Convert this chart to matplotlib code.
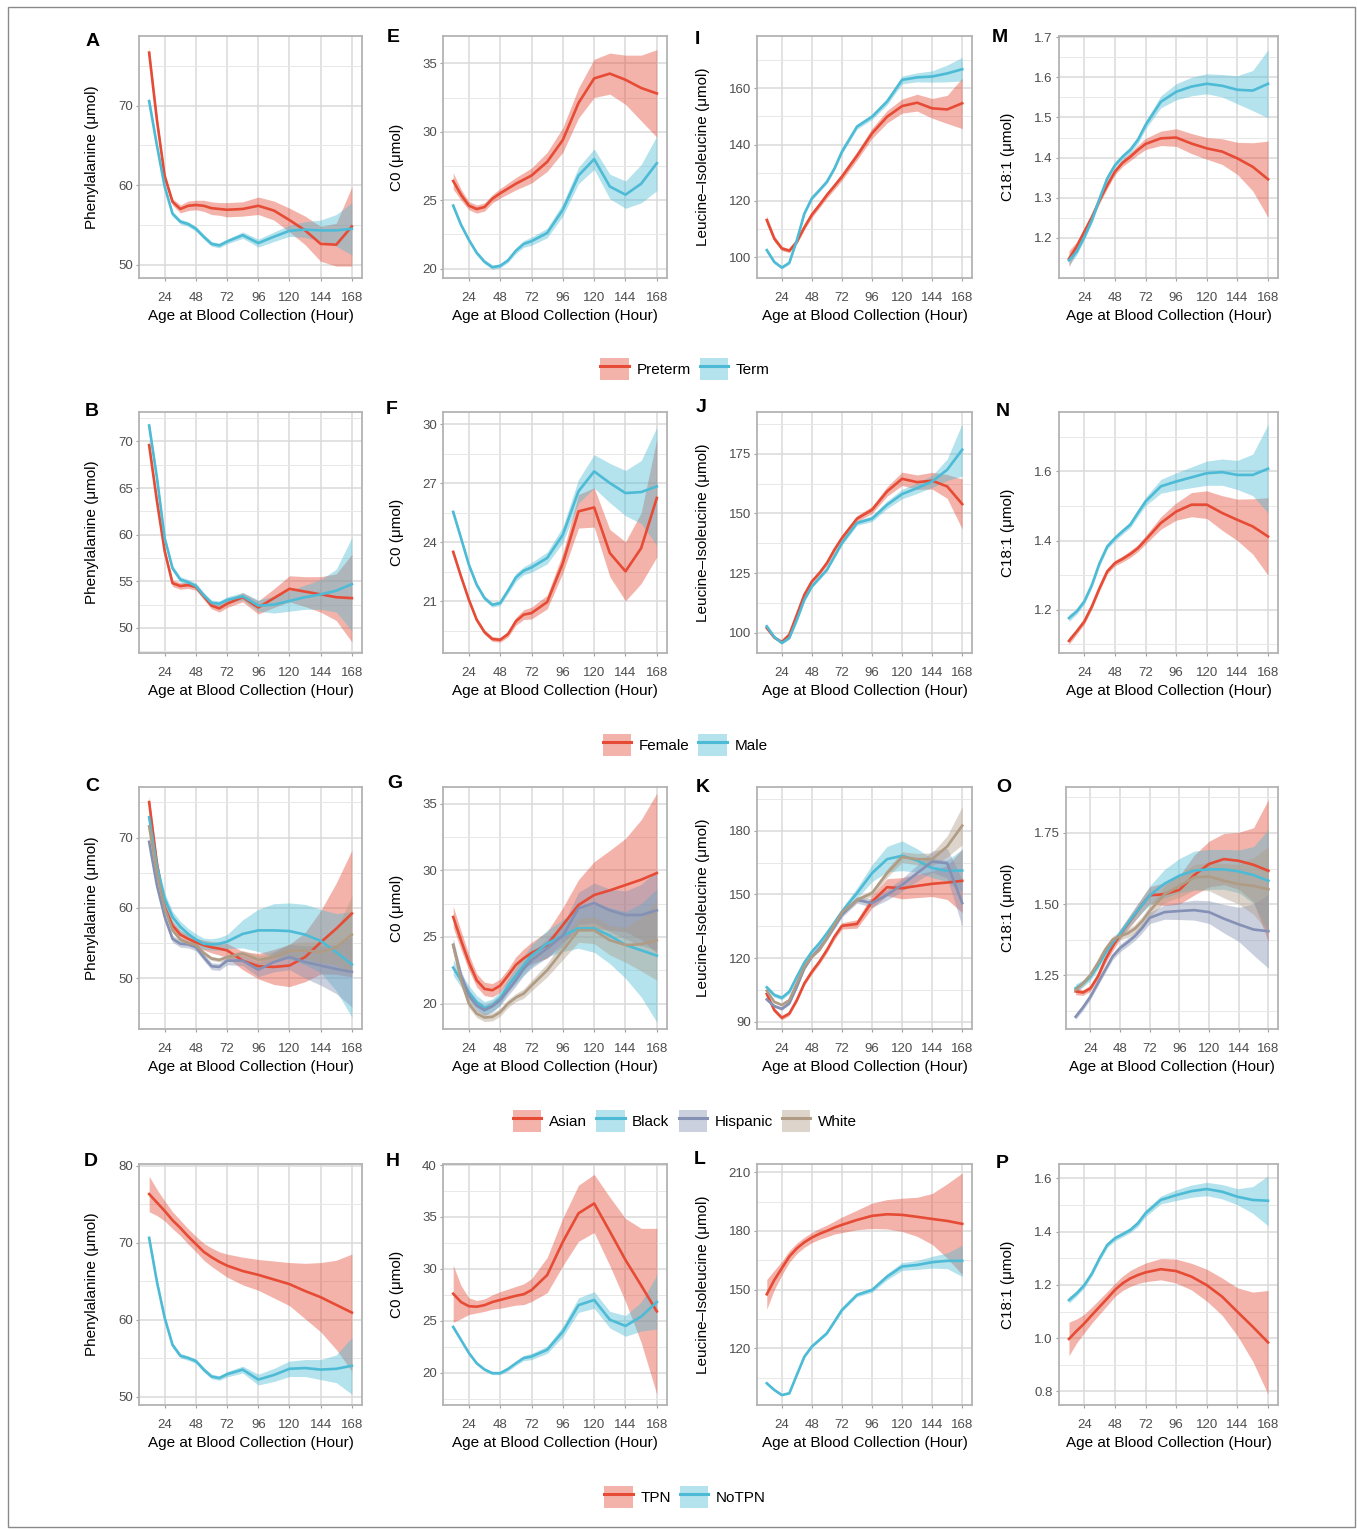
import matplotlib
matplotlib.use('Agg')
import matplotlib.pyplot as plt
from matplotlib.patches import Patch, Rectangle
from matplotlib.lines import Line2D

plt.rcParams['font.family'] = ['Liberation Sans', 'DejaVu Sans']

# ---------------- data ----------------
hours = [12, 18, 24, 30, 36, 42, 48, 54, 60, 66, 72, 84, 96, 108, 120, 132, 144, 156, 168]
x_ticks = [24, 48, 72, 96, 120, 144, 168]

# row 1: Preterm / Term
A_preterm = [76.7, 68.2, 61.1, 57.9, 57.0, 57.4, 57.5, 57.4, 57.1, 57.0, 56.9, 57.0, 57.4, 56.8, 55.6, 54.3, 52.6, 52.5, 54.8]
A_preterm_ci = [0.8, 0.6, 0.5, 0.4, 0.5, 0.6, 0.6, 0.7, 0.8, 0.8, 0.9, 0.9, 1.1, 1.2, 1.5, 1.8, 2.2, 2.7, 5.0]
A_term = [70.6, 65.0, 59.8, 56.4, 55.4, 55.1, 54.5, 53.5, 52.6, 52.4, 52.9, 53.7, 52.7, 53.5, 54.25, 54.4, 54.3, 54.3, 54.5]
A_term_ci = [0.5, 0.4, 0.3, 0.3, 0.3, 0.3, 0.3, 0.3, 0.3, 0.3, 0.3, 0.4, 0.5, 0.6, 0.7, 1.0, 1.3, 2.0, 3.3]

E_preterm = [26.4, 25.4, 24.6, 24.35, 24.5, 25.1, 25.5, 25.85, 26.2, 26.5, 26.8, 27.8, 29.4, 32.1, 33.9, 34.25, 33.8, 33.2, 32.8]
E_preterm_ci = [0.6, 0.4, 0.3, 0.3, 0.3, 0.3, 0.35, 0.4, 0.45, 0.5, 0.55, 0.7, 0.9, 1.1, 1.4, 1.5, 1.8, 2.4, 3.2]
E_term = [24.6, 23.2, 22.1, 21.15, 20.5, 20.1, 20.2, 20.6, 21.3, 21.8, 22.0, 22.6, 24.3, 26.8, 28.0, 26.0, 25.4, 26.2, 27.7]
E_term_ci = [0.2, 0.15, 0.15, 0.15, 0.15, 0.15, 0.15, 0.15, 0.2, 0.25, 0.3, 0.35, 0.45, 0.6, 0.75, 0.9, 1.0, 1.4, 2.0]

I_preterm = [113.2, 106.6, 103.1, 102.3, 105.5, 110.6, 115.1, 118.5, 122.1, 125.3, 128.6, 136.0, 144.0, 149.9, 153.7, 154.9, 152.9, 152.5, 154.7]
I_preterm_ci = [1.5, 1.0, 0.8, 0.7, 0.8, 0.9, 1.0, 1.0, 1.1, 1.2, 1.3, 1.5, 1.8, 2.2, 2.5, 3.0, 3.5, 5.0, 9.0]
I_term = [102.5, 98.3, 96.3, 98.0, 106.0, 115.5, 120.9, 123.8, 126.8, 131.5, 137.5, 146.4, 149.9, 155.3, 163.0, 163.9, 164.2, 165.3, 166.8]
I_term_ci = [0.8, 0.6, 0.5, 0.5, 0.5, 0.6, 0.6, 0.6, 0.7, 0.7, 0.8, 0.9, 1.0, 1.2, 1.4, 1.6, 2.0, 3.0, 4.2]

M_preterm = [1.148, 1.178, 1.215, 1.252, 1.294, 1.331, 1.365, 1.387, 1.402, 1.419, 1.434, 1.448, 1.450, 1.435, 1.423, 1.415, 1.398, 1.377, 1.346]
M_preterm_ci = [0.02, 0.012, 0.01, 0.008, 0.008, 0.008, 0.008, 0.009, 0.01, 0.012, 0.014, 0.018, 0.022, 0.025, 0.027, 0.032, 0.04, 0.06, 0.095]
M_term = [1.144, 1.165, 1.202, 1.244, 1.298, 1.348, 1.381, 1.402, 1.419, 1.444, 1.481, 1.539, 1.564, 1.577, 1.584, 1.579, 1.569, 1.567, 1.584]
M_term_ci = [0.012, 0.008, 0.007, 0.007, 0.007, 0.007, 0.007, 0.008, 0.008, 0.009, 0.01, 0.015, 0.02, 0.023, 0.025, 0.028, 0.035, 0.05, 0.085]

# row 2: Female / Male
B_female = [69.6, 63.6, 58.2, 54.8, 54.5, 54.6, 54.4, 53.4, 52.4, 52.1, 52.6, 53.3, 52.2, 53.2, 54.2, 53.9, 53.6, 53.3, 53.2]
B_female_ci = [0.6, 0.5, 0.4, 0.35, 0.35, 0.35, 0.35, 0.35, 0.35, 0.4, 0.4, 0.5, 0.7, 1.0, 1.4, 1.6, 1.9, 2.5, 4.7]
B_male = [71.7, 66.1, 59.6, 56.4, 55.2, 54.9, 54.5, 53.5, 52.7, 52.6, 53.0, 53.4, 52.4, 52.5, 52.9, 53.3, 53.6, 54.0, 54.7]
B_male_ci = [0.5, 0.4, 0.3, 0.3, 0.3, 0.3, 0.3, 0.3, 0.3, 0.3, 0.35, 0.4, 0.6, 0.9, 1.1, 1.3, 1.6, 2.3, 5.0]

F_female = [23.5, 22.25, 21.07, 20.05, 19.42, 19.07, 19.03, 19.32, 19.97, 20.31, 20.39, 20.95, 22.93, 25.56, 25.76, 23.44, 22.51, 23.69, 26.24]
F_female_ci = [0.15, 0.12, 0.12, 0.12, 0.12, 0.12, 0.12, 0.15, 0.2, 0.25, 0.3, 0.35, 0.5, 0.85, 1.0, 1.2, 1.5, 1.8, 3.0]
F_male = [25.53, 24.2, 22.85, 21.83, 21.15, 20.81, 20.9, 21.53, 22.2, 22.54, 22.71, 23.19, 24.37, 26.58, 27.59, 27.0, 26.49, 26.54, 26.83]
F_male_ci = [0.15, 0.12, 0.12, 0.12, 0.12, 0.12, 0.12, 0.15, 0.2, 0.2, 0.25, 0.3, 0.4, 0.6, 0.85, 1.0, 1.15, 1.6, 3.0]

J_female = [102.0, 98.0, 96.1, 99.2, 107.5, 115.9, 121.5, 125.0, 129.2, 134.8, 139.7, 147.8, 151.5, 159.2, 164.5, 163.1, 163.7, 161.3, 153.9]
J_female_ci = [0.8, 0.7, 0.7, 0.7, 0.7, 0.8, 0.8, 0.9, 1.0, 1.0, 1.1, 1.3, 1.5, 2.0, 2.8, 3.0, 3.5, 5.0, 10.5]
J_male = [102.7, 98.2, 95.7, 97.8, 105.4, 113.8, 119.4, 122.9, 126.4, 132.0, 137.6, 146.0, 147.8, 153.6, 158.1, 160.6, 163.4, 168.3, 176.7]
J_male_ci = [0.6, 0.5, 0.5, 0.5, 0.5, 0.6, 0.6, 0.7, 0.8, 0.8, 0.9, 1.0, 1.2, 1.6, 2.0, 2.2, 2.5, 4.5, 11.0]

N_female = [1.110, 1.137, 1.166, 1.210, 1.263, 1.311, 1.335, 1.347, 1.361, 1.378, 1.402, 1.451, 1.484, 1.504, 1.504, 1.480, 1.460, 1.441, 1.412]
N_female_ci = [0.01, 0.008, 0.008, 0.008, 0.008, 0.008, 0.008, 0.009, 0.01, 0.01, 0.012, 0.018, 0.025, 0.035, 0.04, 0.05, 0.06, 0.08, 0.112]
N_male = [1.176, 1.195, 1.224, 1.272, 1.335, 1.383, 1.407, 1.427, 1.446, 1.480, 1.513, 1.557, 1.571, 1.583, 1.595, 1.598, 1.590, 1.590, 1.608]
N_male_ci = [0.01, 0.008, 0.008, 0.008, 0.008, 0.008, 0.008, 0.008, 0.009, 0.01, 0.012, 0.02, 0.025, 0.03, 0.035, 0.038, 0.042, 0.06, 0.128]

# row 3: Asian / Black / Hispanic / White
C_asian = [75.05, 66.3, 60.1, 57.5, 56.2, 55.6, 55.1, 54.7, 54.4, 54.2, 53.95, 52.5, 51.7, 51.6, 51.8, 53.0, 55.1, 57.05, 59.2]
C_asian_ci = [0.9, 0.8, 0.7, 0.6, 0.6, 0.6, 0.6, 0.7, 0.8, 0.9, 1.0, 1.3, 1.8, 2.5, 3.0, 3.5, 4.5, 6.5, 9.0]
C_black = [72.9, 65.9, 61.3, 58.7, 57.3, 56.3, 55.5, 54.9, 54.8, 54.9, 55.2, 56.3, 56.8, 56.8, 56.7, 56.2, 55.3, 53.7, 51.95]
C_black_ci = [0.9, 0.8, 0.8, 0.8, 0.8, 0.8, 0.8, 0.8, 0.8, 0.9, 1.0, 2.0, 3.0, 3.8, 4.0, 4.3, 4.5, 5.5, 7.5]
C_hispanic = [69.4, 63.2, 58.7, 55.6, 54.9, 54.8, 54.4, 53.0, 51.7, 51.6, 52.5, 52.5, 51.2, 52.3, 53.0, 52.3, 51.8, 51.3, 50.9]
C_hispanic_ci = [0.6, 0.5, 0.5, 0.5, 0.5, 0.5, 0.5, 0.5, 0.5, 0.5, 0.6, 0.7, 1.0, 1.4, 1.8, 2.3, 2.8, 3.5, 5.0]
C_white = [71.6, 64.9, 59.9, 56.8, 55.5, 55.0, 54.7, 53.6, 52.8, 52.6, 53.0, 53.5, 52.6, 53.0, 53.9, 53.95, 53.7, 54.4, 56.2]
C_white_ci = [0.4, 0.3, 0.3, 0.3, 0.3, 0.3, 0.3, 0.3, 0.3, 0.3, 0.35, 0.45, 0.6, 0.8, 1.0, 1.2, 1.5, 2.5, 5.5]

G_asian = [26.5, 24.75, 23.1, 21.75, 21.1, 21.0, 21.35, 22.1, 22.9, 23.4, 23.8, 24.4, 25.9, 27.4, 28.15, 28.5, 28.9, 29.3, 29.8]
G_asian_ci = [0.8, 0.7, 0.6, 0.5, 0.5, 0.5, 0.5, 0.5, 0.6, 0.7, 0.8, 1.0, 1.3, 1.9, 2.5, 3.0, 3.5, 4.5, 6.0]
G_black = [22.7, 21.75, 20.85, 20.1, 19.65, 19.85, 20.4, 21.35, 22.1, 22.85, 23.6, 24.5, 25.1, 25.65, 25.65, 25.1, 24.4, 24.0, 23.6]
G_black_ci = [0.6, 0.5, 0.5, 0.5, 0.5, 0.5, 0.5, 0.5, 0.6, 0.7, 0.8, 1.0, 1.2, 1.5, 1.8, 2.1, 2.5, 3.5, 5.0]
G_hispanic = [24.4, 22.1, 20.6, 19.85, 19.5, 19.8, 20.25, 21.0, 21.75, 22.6, 23.25, 24.15, 25.1, 27.15, 27.55, 27.0, 26.65, 26.65, 27.0]
G_hispanic_ci = [0.5, 0.4, 0.4, 0.4, 0.4, 0.4, 0.4, 0.4, 0.45, 0.5, 0.6, 0.7, 0.8, 1.2, 1.5, 1.6, 1.8, 2.3, 3.0]
G_white = [24.4, 21.75, 20.0, 19.25, 18.95, 19.0, 19.35, 20.0, 20.45, 20.75, 21.35, 22.5, 24.0, 25.5, 25.5, 24.75, 24.4, 24.45, 24.75]
G_white_ci = [0.35, 0.3, 0.3, 0.3, 0.3, 0.3, 0.3, 0.3, 0.3, 0.35, 0.4, 0.5, 0.7, 0.9, 1.0, 1.1, 1.3, 2.0, 3.0]

K_asian = [103.1, 95.5, 91.9, 93.9, 100.2, 108.1, 113.6, 118.3, 123.8, 130.1, 135.2, 136.1, 146.6, 153.4, 152.9, 154.0, 155.0, 155.6, 156.4]
K_asian_ci = [1.2, 1.0, 1.0, 1.0, 1.0, 1.0, 1.1, 1.2, 1.3, 1.4, 1.5, 2.0, 3.0, 4.0, 5.0, 5.5, 6.0, 8.0, 15.0]
K_black = [106.2, 102.6, 101.3, 104.2, 111.2, 117.9, 123.0, 127.0, 131.7, 136.7, 141.9, 150.6, 160.0, 166.6, 168.2, 166.0, 162.4, 161.1, 161.3]
K_black_ci = [1.2, 1.0, 1.0, 1.0, 1.0, 1.0, 1.1, 1.2, 1.3, 1.4, 1.6, 2.5, 4.0, 6.0, 7.0, 5.5, 4.5, 5.0, 10.0]
K_hispanic = [100.5, 97.4, 96.1, 98.7, 106.5, 115.2, 120.7, 124.6, 129.3, 134.8, 140.4, 147.4, 145.9, 149.8, 154.5, 160.0, 165.5, 164.7, 145.9]
K_hispanic_ci = [0.8, 0.7, 0.7, 0.7, 0.7, 0.8, 0.8, 0.9, 1.0, 1.1, 1.2, 1.5, 2.0, 2.5, 3.0, 3.8, 5.0, 7.0, 11.0]
K_white = [104.6, 99.4, 97.9, 100.2, 108.1, 116.0, 120.7, 123.8, 129.3, 135.6, 141.5, 147.4, 150.6, 160.0, 167.6, 166.6, 166.6, 172.6, 182.4]
K_white_ci = [0.6, 0.5, 0.5, 0.5, 0.5, 0.5, 0.6, 0.6, 0.7, 0.8, 0.9, 1.2, 1.5, 2.0, 2.5, 2.7, 3.0, 5.0, 9.0]

O_asian = [1.194, 1.190, 1.205, 1.246, 1.305, 1.352, 1.394, 1.429, 1.464, 1.499, 1.531, 1.535, 1.550, 1.602, 1.641, 1.658, 1.652, 1.638, 1.617]
O_asian_ci = [0.012, 0.01, 0.01, 0.012, 0.014, 0.016, 0.018, 0.02, 0.023, 0.026, 0.03, 0.04, 0.05, 0.07, 0.08, 0.09, 0.1, 0.13, 0.25]
O_black = [1.205, 1.222, 1.245, 1.283, 1.328, 1.365, 1.396, 1.432, 1.466, 1.498, 1.531, 1.572, 1.600, 1.618, 1.622, 1.622, 1.615, 1.602, 1.582]
O_black_ci = [0.015, 0.012, 0.012, 0.012, 0.012, 0.014, 0.016, 0.018, 0.022, 0.027, 0.033, 0.05, 0.06, 0.068, 0.07, 0.07, 0.075, 0.1, 0.18]
O_hispanic = [1.105, 1.138, 1.176, 1.223, 1.270, 1.317, 1.346, 1.366, 1.388, 1.417, 1.452, 1.472, 1.476, 1.479, 1.472, 1.449, 1.429, 1.411, 1.405]
O_hispanic_ci = [0.01, 0.01, 0.01, 0.01, 0.01, 0.012, 0.013, 0.014, 0.015, 0.017, 0.02, 0.025, 0.03, 0.035, 0.04, 0.05, 0.06, 0.09, 0.13]
O_white = [1.199, 1.223, 1.252, 1.294, 1.341, 1.376, 1.388, 1.397, 1.414, 1.441, 1.476, 1.535, 1.564, 1.594, 1.597, 1.582, 1.570, 1.564, 1.552]
O_white_ci = [0.01, 0.01, 0.01, 0.01, 0.01, 0.012, 0.013, 0.014, 0.015, 0.017, 0.02, 0.03, 0.04, 0.045, 0.05, 0.06, 0.07, 0.1, 0.15]

# row 4: TPN / NoTPN
D_tpn = [76.3, 75.2, 74.1, 72.9, 71.9, 70.8, 69.8, 68.8, 68.1, 67.5, 67.0, 66.3, 65.8, 65.2, 64.6, 63.7, 62.9, 61.9, 60.9]
D_tpn_ci = [2.3, 1.7, 1.3, 1.1, 1.0, 1.0, 1.0, 1.1, 1.2, 1.3, 1.5, 1.8, 2.0, 2.4, 2.8, 3.6, 4.5, 5.8, 7.6]
D_notpn = [70.6, 64.9, 60.2, 56.7, 55.3, 55.0, 54.6, 53.5, 52.6, 52.4, 52.9, 53.5, 52.2, 52.8, 53.6, 53.7, 53.5, 53.6, 54.0]
D_notpn_ci = [0.5, 0.4, 0.3, 0.3, 0.3, 0.3, 0.3, 0.3, 0.3, 0.3, 0.35, 0.45, 0.7, 0.85, 1.0, 1.1, 1.3, 1.8, 3.7]

H_tpn = [27.6, 26.8, 26.4, 26.35, 26.5, 26.8, 27.0, 27.2, 27.4, 27.55, 27.95, 29.4, 32.6, 35.35, 36.3, 33.6, 30.85, 28.4, 25.9]
H_tpn_ci = [2.75, 1.6, 0.8, 0.6, 0.6, 0.7, 0.8, 0.85, 0.9, 1.0, 1.1, 1.7, 2.3, 2.7, 2.8, 3.3, 4.0, 5.5, 8.0]
H_notpn = [24.4, 23.15, 21.9, 20.9, 20.3, 19.95, 19.95, 20.35, 20.9, 21.4, 21.55, 22.2, 23.95, 26.5, 27.0, 25.1, 24.5, 25.4, 26.8]
H_notpn_ci = [0.2, 0.15, 0.15, 0.15, 0.15, 0.15, 0.15, 0.2, 0.2, 0.25, 0.3, 0.35, 0.5, 0.7, 0.8, 0.8, 1.0, 1.4, 2.6]

L_tpn = [147.6, 154.9, 160.9, 166.9, 171.1, 174.2, 176.6, 178.5, 180.0, 181.7, 183.1, 185.6, 187.7, 188.5, 188.2, 187.2, 186.1, 185.1, 183.6]
L_tpn_ci = [7.6, 5.0, 3.5, 3.0, 2.7, 2.6, 2.6, 2.8, 3.0, 3.3, 4.0, 5.0, 6.5, 7.5, 8.5, 10.0, 13.0, 19.0, 26.0]
L_notpn = [102.1, 98.7, 96.1, 97.0, 106.4, 115.7, 120.9, 124.3, 127.7, 133.6, 139.6, 147.3, 149.8, 156.6, 161.8, 162.6, 164.0, 164.7, 164.7]
L_notpn_ci = [0.8, 0.6, 0.5, 0.5, 0.5, 0.6, 0.6, 0.7, 0.7, 0.8, 0.9, 1.0, 1.2, 1.6, 2.0, 2.3, 3.0, 4.0, 8.0]

P_tpn = [0.997, 1.027, 1.055, 1.087, 1.118, 1.149, 1.181, 1.206, 1.224, 1.237, 1.247, 1.259, 1.252, 1.231, 1.199, 1.156, 1.099, 1.043, 0.984]
P_tpn_ci = [0.063, 0.045, 0.035, 0.03, 0.028, 0.026, 0.025, 0.027, 0.03, 0.032, 0.035, 0.04, 0.045, 0.05, 0.06, 0.07, 0.09, 0.13, 0.195]
P_notpn = [1.143, 1.168, 1.199, 1.243, 1.300, 1.350, 1.375, 1.390, 1.406, 1.431, 1.469, 1.519, 1.537, 1.552, 1.560, 1.550, 1.531, 1.519, 1.516]
P_notpn_ci = [0.012, 0.01, 0.01, 0.01, 0.01, 0.01, 0.01, 0.01, 0.01, 0.012, 0.013, 0.015, 0.02, 0.023, 0.025, 0.027, 0.03, 0.05, 0.094]

# ---------------- styling ----------------
RED, BLUE, PURPLE, TAN = '#E64B35', '#4DBBD5', '#8491B4', '#B09C85'
ALPHA = 0.42
W, H = 1357, 1529

row_top = [36, 412, 787, 1164]
row_bot = [278, 653, 1029, 1405]
col_left = [139, 443, 757, 1059]
col_right = [362, 667, 972, 1278]
ylab_x = [92, 397, 703, 1008]

PHE = 'Phenylalanine (\u03bcmol)'
C0 = 'C0 (\u03bcmol)'
LEU = 'Leucine\u2013Isoleucine (\u03bcmol)'
C18 = 'C18:1 (\u03bcmol)'

panels = [
    # letter, row, col, ylabel, ylim, major, minor, fmt, series, letter pos
    ('A', 0, 0, PHE, (48.3, 78.8), [50, 60, 70], [55, 65, 75], '%g',
     [(A_preterm, A_preterm_ci, RED), (A_term, A_term_ci, BLUE)], (93, 41)),
    ('E', 0, 1, C0, (19.31, 37.0), [20, 25, 30, 35], [22.5, 27.5, 32.5], '%g',
     [(E_preterm, E_preterm_ci, RED), (E_term, E_term_ci, BLUE)], (393, 37)),
    ('I', 0, 2, LEU, (92.6, 178.6), [100, 120, 140, 160], [110, 130, 150, 170], '%g',
     [(I_preterm, I_preterm_ci, RED), (I_term, I_term_ci, BLUE)], (697, 39)),
    ('M', 0, 3, C18, (1.100, 1.703), [1.2, 1.3, 1.4, 1.5, 1.6, 1.7],
     [1.15, 1.25, 1.35, 1.45, 1.55, 1.65], '%.1f',
     [(M_preterm, M_preterm_ci, RED), (M_term, M_term_ci, BLUE)], (1000, 37)),
    ('B', 1, 0, PHE, (47.32, 73.15), [50, 55, 60, 65, 70], [47.5, 52.5, 57.5, 62.5, 67.5, 72.5], '%g',
     [(B_female, B_female_ci, RED), (B_male, B_male_ci, BLUE)], (92, 412)),
    ('F', 1, 1, C0, (18.36, 30.61), [21, 24, 27, 30], [19.5, 22.5, 25.5, 28.5], '%g',
     [(F_female, F_female_ci, RED), (F_male, F_male_ci, BLUE)], (392, 410)),
    ('J', 1, 2, LEU, (91.5, 192.5), [100, 125, 150, 175], [112.5, 137.5, 162.5, 187.5], '%g',
     [(J_female, J_female_ci, RED), (J_male, J_male_ci, BLUE)], (701, 408)),
    ('N', 1, 3, C18, (1.075, 1.772), [1.2, 1.4, 1.6], [1.1, 1.3, 1.5, 1.7], '%.1f',
     [(N_female, N_female_ci, RED), (N_male, N_male_ci, BLUE)], (1003, 411)),
    ('C', 2, 0, PHE, (42.77, 77.2), [50, 60, 70], [45, 55, 65, 75], '%g',
     [(C_asian, C_asian_ci, RED), (C_black, C_black_ci, BLUE),
      (C_hispanic, C_hispanic_ci, PURPLE), (C_white, C_white_ci, TAN)], (92, 787)),
    ('G', 2, 1, C0, (18.09, 36.26), [20, 25, 30, 35], [22.5, 27.5, 32.5], '%g',
     [(G_asian, G_asian_ci, RED), (G_black, G_black_ci, BLUE),
      (G_hispanic, G_hispanic_ci, PURPLE), (G_white, G_white_ci, TAN)], (395, 783)),
    ('K', 2, 2, LEU, (86.6, 200.6), [90, 120, 150, 180], [105, 135, 165, 195], '%g',
     [(K_asian, K_asian_ci, RED), (K_black, K_black_ci, BLUE),
      (K_hispanic, K_hispanic_ci, PURPLE), (K_white, K_white_ci, TAN)], (703, 788)),
    ('O', 2, 3, C18, (1.062, 1.911), [1.25, 1.5, 1.75], [1.125, 1.375, 1.625, 1.875], '%.2f',
     [(O_asian, O_asian_ci, RED), (O_black, O_black_ci, BLUE),
      (O_hispanic, O_hispanic_ci, PURPLE), (O_white, O_white_ci, TAN)], (1004, 788)),
    ('D', 3, 0, PHE, (48.9, 80.2), [50, 60, 70, 80], [55, 65, 75], '%g',
     [(D_tpn, D_tpn_ci, RED), (D_notpn, D_notpn_ci, BLUE)], (91, 1161)),
    ('H', 3, 1, C0, (16.88, 40.1), [20, 25, 30, 35, 40], [17.5, 22.5, 27.5, 32.5, 37.5], '%g',
     [(H_tpn, H_tpn_ci, RED), (H_notpn, H_notpn_ci, BLUE)], (393, 1162)),
    ('L', 3, 2, LEU, (91.0, 214.2), [120, 150, 180, 210], [105, 135, 165, 195], '%g',
     [(L_tpn, L_tpn_ci, RED), (L_notpn, L_notpn_ci, BLUE)], (700, 1160)),
    ('P', 3, 3, C18, (0.749, 1.654), [0.8, 1.0, 1.2, 1.4, 1.6], [0.9, 1.1, 1.3, 1.5], '%.1f',
     [(P_tpn, P_tpn_ci, RED), (P_notpn, P_notpn_ci, BLUE)], (1002, 1163)),
]

legends = [
    (['Preterm', 'Term'], [RED, BLUE], 369),
    (['Female', 'Male'], [RED, BLUE], 745),
    (['Asian', 'Black', 'Hispanic', 'White'], [RED, BLUE, PURPLE, TAN], 1121),
    (['TPN', 'NoTPN'], [RED, BLUE], 1497),
]

fig = plt.figure(figsize=(W / 100, H / 100), dpi=100)

for letter, r, c, ylabel, ylim, major, minor, fmt, series, lpos in panels:
    left = col_left[c]
    if letter == 'O':
        left = 1066
    right, top, bot = col_right[c], row_top[r], row_bot[r]
    ax = fig.add_axes([left / W, 1 - bot / H, (right - left) / W, (bot - top) / H])
    for vals, ci, col in series:
        lo = [v - e for v, e in zip(vals, ci)]
        hi = [v + e for v, e in zip(vals, ci)]
        ax.fill_between(hours, lo, hi, color=col, alpha=ALPHA, lw=0)
        ax.plot(hours, vals, color=col, lw=1.9, solid_joinstyle='round')
    ax.set_xlim(4.2, 175.8)
    ax.set_ylim(*ylim)
    ax.set_xticks(x_ticks)
    ax.set_yticks(major)
    ax.set_yticklabels([fmt % t for t in major])
    ax.set_yticks(minor, minor=True)
    ax.set_axisbelow(True)
    ax.grid(which='major', color='#dadada', lw=1.1)
    ax.grid(which='minor', axis='y', color='#e8e8e8', lw=0.7)
    for sp in ax.spines.values():
        sp.set_color('#b3b3b3')
        sp.set_linewidth(1.3)
    ax.tick_params(which='major', length=2.5, width=0.8, color='#a0a0a0',
                   labelsize=9.5, labelcolor='#4d4d4d')
    ax.tick_params(axis='x', pad=7.5)
    ax.tick_params(axis='y', pad=2)
    ax.tick_params(which='minor', length=0)
    # axis titles, placed in pixel offsets from the panel
    ax.set_xlabel('Age at Blood Collection (Hour)', fontsize=11)
    ax.xaxis.set_label_coords(0.5, -38 / (bot - top))
    ax.xaxis.label.set_verticalalignment('center')
    ax.set_ylabel(ylabel, fontsize=11)
    ax.yaxis.set_label_coords((ylab_x[c] - left) / (right - left), 0.5)
    ax.yaxis.label.set_verticalalignment('center')
    fig.text(lpos[0] / W, 1 - lpos[1] / H, letter, fontsize=14, fontweight='bold',
             ha='center', va='center')

for labels, colors, yc in legends:
    handles = [(Patch(facecolor=col, alpha=ALPHA, edgecolor='none'),
                Line2D([0], [0], color=col, lw=2.2)) for col in colors]
    fig.legend(handles, labels, loc='center', bbox_to_anchor=(685 / W, 1 - yc / H),
               ncol=len(labels), frameon=False, fontsize=11, handlelength=1.85,
               handleheight=1.85, handletextpad=0.5, columnspacing=0.6,
               borderpad=0)

fig.patches.append(Rectangle((8 / W, 1 - 1527 / H), (1355 - 8) / W, (1527 - 7) / H,
                             transform=fig.transFigure, fill=False,
                             edgecolor='#8a8a8a', lw=1.0))

fig.savefig('out.png', dpi=100)
